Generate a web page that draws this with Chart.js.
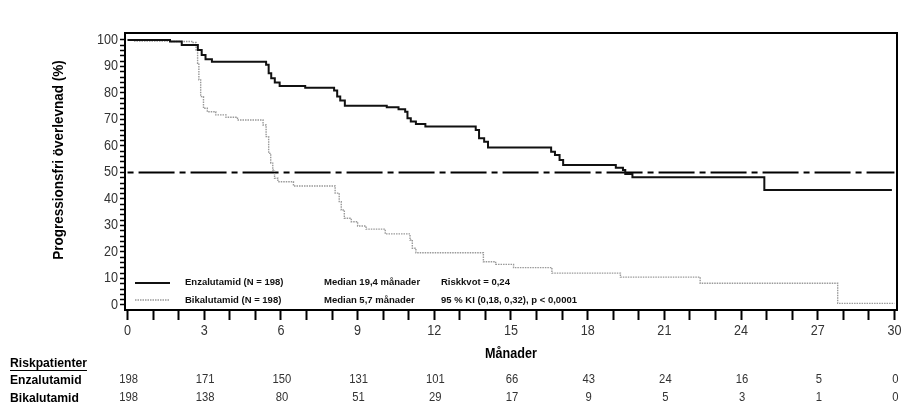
<!DOCTYPE html>
<html>
<head>
<meta charset="utf-8">
<script src="https://cdn.jsdelivr.net/npm/chart.js@4/dist/chart.umd.min.js"></script>
<style>
  html, body { margin: 0; padding: 0; background: #fff; }
  #wrap { width: 922px; height: 418px; }
</style>
</head>
<body>
<div id="wrap"><canvas id="pfsChart" width="922" height="418"></canvas></div>
<script>
// Kaplan-Meier data (months, % progression free)
const enzaTimes = [0, 1.66, 2.12, 2.75, 2.9, 3.05, 3.3, 5.42, 5.52, 5.62, 5.76, 5.95, 6.95, 8.08, 8.2, 8.32, 8.5,
    10.14, 10.6, 10.86, 10.95, 11.08, 11.28, 11.65, 13.62, 13.75, 13.95, 14.1, 16.57, 16.72, 16.9, 17.04,
    19.1, 19.38, 19.47, 19.75, 24.91, 29.9];
const enzaSurv = [100, 99.4, 98.1, 96.2, 94.3, 92.7, 91.8, 90.6, 87.4, 85.5, 83.9, 82.6, 81.9, 80.9, 78.6, 77.1, 75.2,
    74.6, 73.8, 72.9, 70.4, 69.2, 68.3, 67.3, 66.0, 62.9, 61.6, 59.4, 57.8, 56.6, 54.7, 52.8,
    51.8, 50.9, 49.4, 48.2, 43.4, 43.4];

const bikaTimes = [0, 0.23, 1.66, 2.51, 2.68, 2.74, 2.79, 2.86, 2.97, 3.12, 3.45, 3.85, 4.3, 5.3, 5.42, 5.52, 5.6,
    5.68, 5.75, 5.88, 6.49, 8.12, 8.28, 8.36, 8.48, 8.75, 9.0, 9.33, 10.08, 11.05, 11.14, 11.28,
    13.92, 14.4, 15.1, 16.6, 19.28, 22.4, 27.78, 30.0];
const bikaSurv = [100, 99.6, 99.4, 99.0, 96.2, 91.2, 84.9, 78.6, 74.2, 72.9, 71.7, 70.8, 69.8, 67.9, 63.5, 57.2, 53.5,
    50.9, 47.8, 46.5, 44.9, 42.2, 39.0, 35.8, 32.7, 31.4, 29.8, 28.6, 26.8, 24.5, 21.4, 19.7,
    16.3, 15.3, 14.1, 12.0, 10.5, 8.2, 0.6, 0.6];

const medianLine = [50, 50];
const medianSpan = [0, 30];

// axes
const xTickValues = Array.from({ length: 31 }, (_, i) => i);
const xTickLabels = [0, 3, 6, 9, 12, 15, 18, 21, 24, 27, 30];
const yTickValues = Array.from({ length: 51 }, (_, i) => i * 2);
const yTickLabels = [0, 10, 20, 30, 40, 50, 60, 70, 80, 90, 100];

// numbers at risk
const riskMonths = [0, 3, 6, 9, 12, 15, 18, 21, 24, 27, 30];
const enzaAtRisk = [198, 171, 150, 131, 101, 66, 43, 24, 16, 5, 0];
const bikaAtRisk = [198, 138, 80, 51, 29, 17, 9, 5, 3, 1, 0];

const sans = "'Liberation Sans', Arial, sans-serif";
const NARROW = 0.9;   // no Arial Narrow installed, so squeeze Liberation Sans a little

const canvas = document.getElementById('pfsChart');
const ctx2d = canvas.getContext('2d');
const baseFillText = CanvasRenderingContext2D.prototype.fillText;
ctx2d.wideText = false;
ctx2d.fillText = function (text, x, y, maxWidth) {
    if (this.wideText) return baseFillText.call(this, text, x, y);
    this.save();
    this.translate(x, y);
    this.scale(NARROW, 1);
    baseFillText.call(this, text, 0, 0);
    this.restore();
};

const toPoints = (xs, ys) => xs.map((x, i) => ({ x: x, y: ys[i] }));

// box, y title, in-plot legend and risk table
const extras = {
    id: 'extras',
    afterDraw(chart) {
        const ctx = chart.ctx;
        const a = chart.chartArea;
        const xs = chart.scales.x;
        ctx.save();

        ctx.strokeStyle = '#000';
        ctx.lineWidth = 2;
        ctx.strokeRect(a.left, a.top, a.right - a.left, a.bottom - a.top);

        // y axis title (sits a bit above the middle of the axis in the original)
        ctx.save();
        ctx.translate(59, 160);
        ctx.rotate(-Math.PI / 2);
        ctx.fillStyle = '#000';
        ctx.font = 'bold 15px ' + sans;
        ctx.textAlign = 'center';
        ctx.textBaseline = 'middle';
        ctx.fillText('Progressionsfri överlevnad (%)', 0, 0);
        ctx.restore();

        // legend samples
        ctx.beginPath();
        ctx.moveTo(135, 283); ctx.lineTo(170, 283);
        ctx.lineWidth = 2; ctx.strokeStyle = '#111';
        ctx.stroke();
        ctx.beginPath();
        ctx.setLineDash([1.5, 1]);
        ctx.moveTo(135, 300); ctx.lineTo(170, 300);
        ctx.lineWidth = 1.4; ctx.strokeStyle = '#999';
        ctx.stroke();
        ctx.setLineDash([]);

        ctx.wideText = true;
        ctx.fillStyle = '#111';
        ctx.font = 'bold 9.5px ' + sans;
        ctx.textBaseline = 'middle';
        ctx.textAlign = 'left';
        ctx.fillText('Enzalutamid (N = 198)', 185, 282);
        ctx.fillText('Bikalutamid (N = 198)', 185, 300);
        ctx.fillText('Median 19,4 månader', 324, 282);
        ctx.fillText('Median 5,7 månader', 324, 300);
        ctx.fillText('Riskkvot = 0,24', 441, 282);
        ctx.fillText('95 % KI (0,18, 0,32), p < 0,0001', 441, 300);
        ctx.wideText = false;

        // risk table
        ctx.fillStyle = '#000';
        ctx.font = 'bold 13.5px ' + sans;
        ctx.fillText('Riskpatienter', 10, 363);
        const w = ctx.measureText('Riskpatienter').width * NARROW;
        ctx.beginPath();
        ctx.moveTo(10, 370.5); ctx.lineTo(10 + w, 370.5);
        ctx.lineWidth = 1; ctx.strokeStyle = '#000';
        ctx.stroke();
        ctx.fillText('Enzalutamid', 10, 380);
        ctx.fillText('Bikalutamid', 10, 398.5);

        ctx.font = '12.5px ' + sans;
        ctx.fillStyle = '#333';
        ctx.textAlign = 'center';
        riskMonths.forEach((m, i) => {
            const px = xs.getPixelForValue(m) + 1;
            ctx.fillText(String(enzaAtRisk[i]), px, 380);
            ctx.fillText(String(bikaAtRisk[i]), px, 398);
        });
        ctx.restore();
    }
};

new Chart(canvas, {
    type: 'line',
    data: {
        datasets: [{
            label: 'Enzalutamid',
            data: toPoints(enzaTimes, enzaSurv),
            stepped: true,
            borderColor: '#111',
            borderWidth: 2,
            pointRadius: 0
        }, {
            label: 'Bikalutamid',
            data: toPoints(bikaTimes, bikaSurv),
            stepped: true,
            borderColor: '#999',
            borderWidth: 1.4,
            borderDash: [1.5, 1],
            pointRadius: 0
        }, {
            label: 'Median',
            data: toPoints(medianSpan, medianLine),
            borderColor: '#000',
            borderWidth: 2,
            borderDash: [36, 5, 6, 5],
            borderDashOffset: 41,
            pointRadius: 0
        }]
    },
    options: {
        responsive: false,
        animation: false,
        layout: { padding: { left: 53, right: 25, top: 33, bottom: 55 } },
        plugins: { legend: { display: false }, tooltip: { enabled: false } },
        scales: {
            x: {
                type: 'linear',
                min: -0.1,
                max: 30.1,
                afterBuildTicks: (scale) => { scale.ticks = xTickValues.map(v => ({ value: v })); },
                afterFit: (scale) => { scale.height = 53; },
                grid: { drawOnChartArea: false, tickLength: 10, tickWidth: 2, tickColor: '#000' },
                border: { color: '#000', width: 2 },
                ticks: {
                    autoSkip: false,
                    maxRotation: 0,
                    padding: 3,
                    color: '#333',
                    font: { family: sans, size: 14 },
                    callback: (v) => xTickLabels.includes(v) ? String(v) : ''
                },
                title: {
                    display: true,
                    text: 'Månader',
                    color: '#000',
                    font: { family: sans, size: 14, weight: 'bold' },
                    padding: 0
                }
            },
            y: {
                type: 'linear',
                min: -1.9,
                max: 102.6,
                afterBuildTicks: (scale) => { scale.ticks = yTickValues.map(v => ({ value: v })); },
                afterFit: (scale) => { scale.width = 72; },
                grid: { drawOnChartArea: false, tickLength: 5, tickWidth: 1.5, tickColor: '#000' },
                border: { color: '#000', width: 2 },
                ticks: {
                    autoSkip: false,
                    padding: 2,
                    color: '#333',
                    font: { family: sans, size: 14 },
                    callback: (v) => yTickLabels.includes(v) ? String(v) : ''
                }
            }
        }
    },
    plugins: [extras]
});
</script>
</body>
</html>
